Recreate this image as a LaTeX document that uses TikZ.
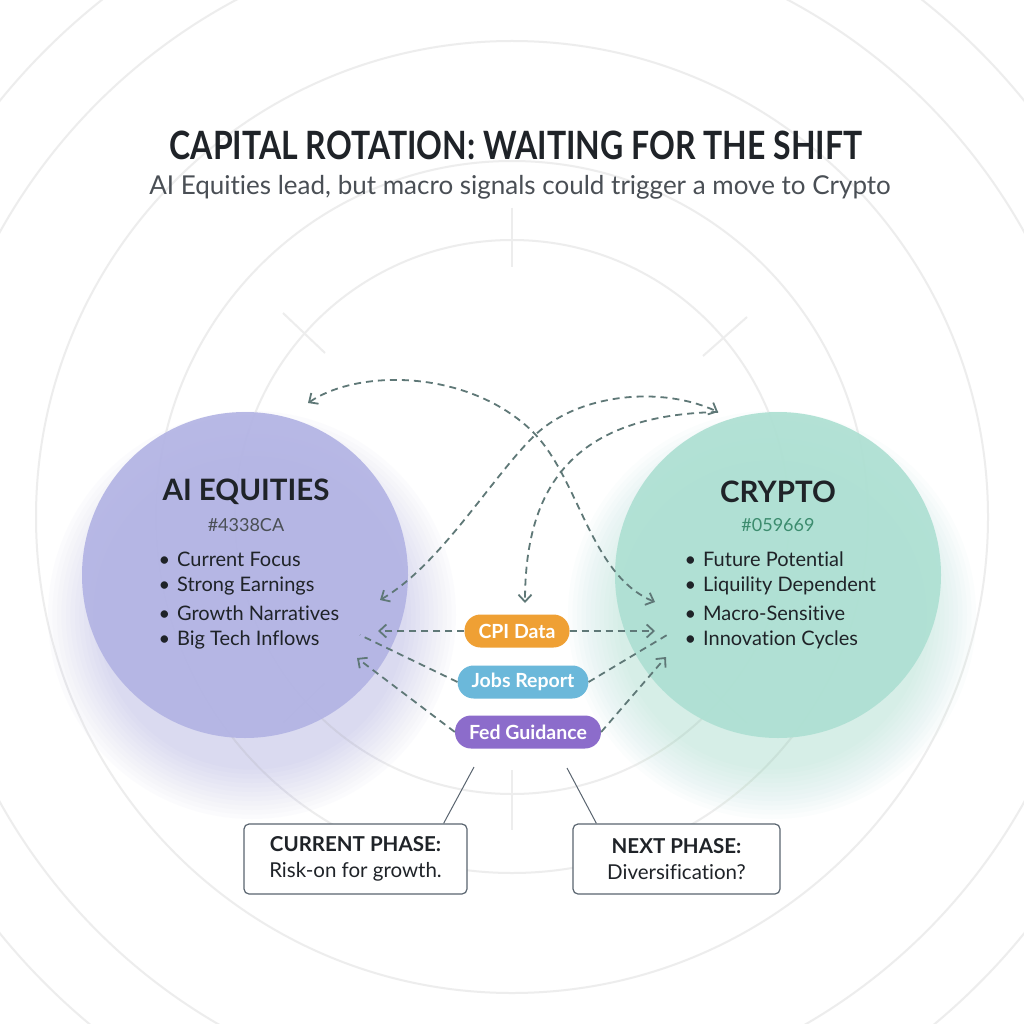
\documentclass[tikz,border=0pt]{standalone}
\usepackage{fontspec}
\setmainfont{Lato}[Ligatures=NoCommon]
\newfontfamily\titlefont[FakeStretch=0.82,Ligatures=NoCommon]{Lato}
\usetikzlibrary{arrows.meta,calc}
\definecolor{purpleC}{HTML}{B3B4E4}
\definecolor{greenC}{HTML}{AEE0D3}
\definecolor{purpleG}{HTML}{9C9CDA}
\definecolor{greenG}{HTML}{8FD6C0}
\definecolor{titleC}{HTML}{1F2328}
\definecolor{subC}{HTML}{4A4F55}
\definecolor{dashC}{HTML}{5F7877}
\definecolor{ringC}{HTML}{EDEDED}
\definecolor{cpiC}{HTML}{EFA034}
\definecolor{jobsC}{HTML}{6BB8DA}
\definecolor{fedC}{HTML}{8C6CCB}
\definecolor{codeG}{HTML}{3C8C6E}
\definecolor{boxC}{HTML}{5A6570}
\tikzset{
  myb/.tip={Straight Barb[length=7pt,width=13pt,line width=1.8pt]},
  ring/.style={draw=ringC, line width=2pt},
  tick/.style={draw=ringC, line width=2pt},
  bigcirc/.style={circle, minimum size=326pt, inner sep=0pt},
  head/.style={font=\bfseries\fontsize{29.5}{30}\selectfont, text=titleC},
  code/.style={font=\fontsize{18}{18}\selectfont},
  bul/.style={font=\fontsize{20}{20}\selectfont, text=titleC, anchor=west},
  pill/.style={rounded corners=16pt, minimum height=33pt, inner xsep=14pt, text=white, font=\bfseries\fontsize{19.5}{19.5}\selectfont},
  phase/.style={draw=boxC, line width=1.2pt, fill=white, rounded corners=5pt, minimum height=70pt, align=center, font=\fontsize{20.5}{26}\selectfont, text=titleC},
  flow/.style={draw=dashC, line width=1.8pt, dash pattern=on 7pt off 5pt},
  leader/.style={draw=boxC, line width=1pt}
}
\begin{document}
\begin{tikzpicture}[x=1pt,y=-1pt]
\fill[white] (0,0) rectangle (1024,1024);
\useasboundingbox (0,0) rectangle (1024,1024);
% background rings
\begin{scope}
\clip (0,0) rectangle (1024,1024);
\coordinate (ctr) at (512,517);
\foreach \r in {277,356,476,586,660}{\draw[ring] (ctr) circle (\r);}
\draw[tick] (512,208) -- (512,267);
\draw[tick] (512,770) -- (512,830);
\draw[tick] (283,313) -- (325,353);
\draw[tick] (747,317) -- (703,356);
\draw[tick] (283,723) -- (325,683);
\draw[tick] (747,723) -- (703,683);
\end{scope}
% glows
\foreach \i in {1,...,12}{
  \fill[purpleG, opacity=0.032] (252,615) circle ({150+\i*4.5});
  \fill[greenG, opacity=0.032] (772,615) circle ({150+\i*4.5});
}
% main circles
\node[bigcirc, fill=purpleC, fill opacity=0.93] (eq) at (245,575) {};
\node[bigcirc, fill=greenC, fill opacity=0.93] (cr) at (778,575) {};
% left texts
\node[head] (eqT) at (246,492) {AI EQUITIES};
\node[code, text=subC] (eqC) at (246,525) {\#4338CA};
\node[bul] (eq1) at (155,559) {•\hspace{7pt}Current Focus};
\node[bul] (eq2) at (155,586) {•\hspace{7pt}Strong Earnings};
\node[bul] (eq3) at (155,613) {•\hspace{7pt}Growth Narratives};
\node[bul] (eq4) at (155,640) {•\hspace{7pt}Big Tech Inflows};
% right texts
\node[head] (crT) at (778,492) {CRYPTO};
\node[code, text=codeG] (crC) at (778,525) {\#059669};
\node[bul] (cr1) at (681,559) {•\hspace{7pt}Future Potential};
\node[bul] (cr2) at (681,586) {•\hspace{7pt}Liquility Dependent};
\node[bul] (cr3) at (681,613) {•\hspace{7pt}Macro-Sensitive};
\node[bul] (cr4) at (681,640) {•\hspace{7pt}Innovation Cycles};
% title
\node[font=\titlefont\bfseries\fontsize{39}{39}\selectfont, text=titleC] (title) at (516,145) {CAPITAL ROTATION: WAITING FOR THE SHIFT};
\node[font=\fontsize{26}{26}\selectfont, text=subC] (sub) at (520,187) {AI Equities lead, but macro signals could trigger a move to Crypto};
% pills
\node[pill, fill=cpiC] (cpi) at (517,631) {CPI Data};
\node[pill, fill=jobsC] (jobs) at (523,682) {Jobs Report};
\node[pill, fill=fedC] (fed) at (528,732) {Fed Guidance};
% phase boxes
\node[phase, minimum width=223pt] (cur) at (355.5,859) {\textbf{CURRENT PHASE:}\\Risk-on for growth.};
\node[phase, minimum width=207pt] (nxt) at (676.5,859) {\textbf{NEXT PHASE:}\\Diversification?};
% leader lines
\coordinate (l1) at (474,767);
\coordinate (l2) at (567,768);
\draw[leader] (l1) -- ($(cur.north east)+(-24,0)$);
\draw[leader] (l2) -- ($(nxt.north west)+(24,0)$);
% arc connectors
\coordinate (aL) at (308,403);
\coordinate (aR) at (655,602);
\coordinate (bL) at (380,600);
\coordinate (bR) at (718,412);
\coordinate (cB) at (525,603);
\draw[flow, {myb}-{myb}] (aL) .. controls (360,368) and (470,370) .. (533,432) .. controls (580,480) and (590,575) .. (aR);
\draw[flow, {myb}-{myb}] (bL) .. controls (440,565) and (490,480) .. (533,437) .. controls (576,394) and (660,385) .. (bR);
\draw[flow, -{myb}] (bR) .. controls (570,415) and (525,490) .. (cB);
% signal connectors
\coordinate (cpiL) at (378,631);
\coordinate (cpiR) at (655,631);
\coordinate (jobsL) at (360,635);
\coordinate (jobsR) at (667,635);
\coordinate (fedL) at (357,658);
\coordinate (fedR) at (666,657);
\draw[flow, -{myb}] (cpi.west) -- (cpiL);
\draw[flow, -{myb}] (cpi.east) -- (cpiR);
\draw[flow] (jobs.west) -- (jobsL);
\draw[flow] (jobs.east) -- (jobsR);
\draw[flow, -{myb}] (fed.west) -- (fedL);
\draw[flow, -{myb}] (fed.east) -- (fedR);
\end{tikzpicture}
\end{document}
